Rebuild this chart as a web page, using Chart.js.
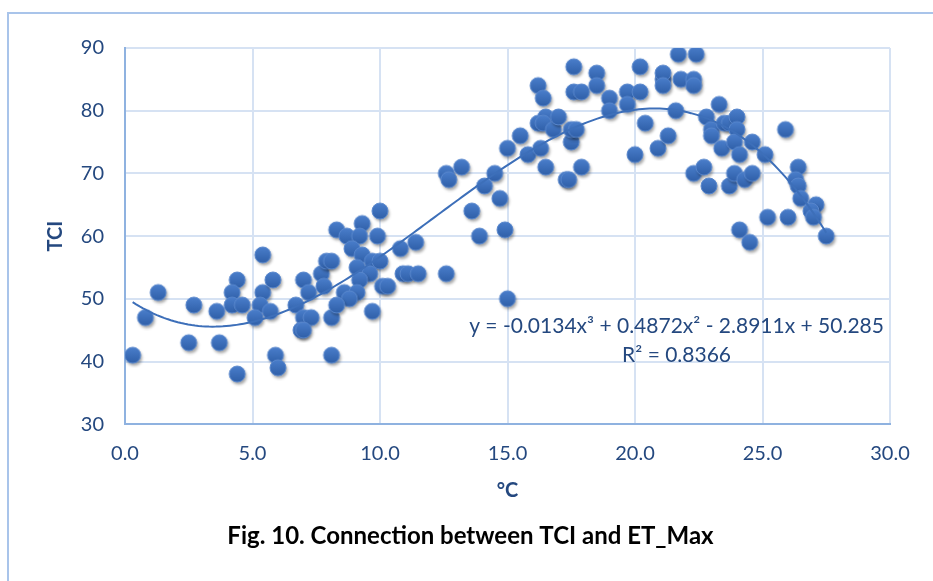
<!DOCTYPE html>
<html>
<head>
<meta charset="utf-8">
<script src="https://cdn.jsdelivr.net/npm/chart.js@4.4.1/dist/chart.umd.min.js"></script>
<style>
  html, body { margin: 0; padding: 0; background: #fff; overflow: hidden; }
  #wrap { position: relative; width: 933px; height: 581px; }
  #frame { position: absolute; left: 7px; top: 12px; width: 940px; height: 600px;
           border-top: 2px solid #a9c4ea; border-left: 2px solid #a9c4ea; }
  canvas { position: absolute; left: 0; top: 0; }
</style>
</head>
<body>
<div id="wrap">
  <div id="frame"></div>
  <canvas id="chart" width="933" height="581"></canvas>
</div>
<script>
// data
const etMax = [
  0.3, 0.8, 1.3, 2.5, 2.7, 3.6, 3.7, 4.4, 4.4, 4.2, 4.2, 4.6, 5.4, 5.4, 5.3, 5.1,
  5.7, 5.8, 5.9, 6.0, 6.7, 7.0, 7.2, 7.0, 7.3, 6.9, 7.0, 7.7, 7.8, 7.9, 8.1, 8.1,
  12.6, 12.7, 13.2, 14.5, 14.1, 14.7, 13.6, 13.9, 14.9, 15.0, 10.0, 9.3, 8.3, 8.7,
  9.2, 9.9, 8.9, 9.3, 8.1, 9.1, 9.7, 10.0, 9.6, 9.2, 10.1, 10.3, 8.6, 9.1, 8.8, 8.3,
  9.7, 10.8, 11.4, 10.9, 11.1, 11.5, 12.6,
  15.0, 15.5, 15.8, 16.3, 16.5, 16.2, 16.4, 16.5, 16.2, 16.4, 16.8, 17.0, 17.3, 17.4,
  17.5, 17.5, 17.7, 17.6, 17.6, 17.9, 17.9, 18.5, 18.5, 19.0, 19.0, 19.7, 19.7, 20.2,
  20.2, 20.0, 20.4, 20.9, 21.3, 21.1, 21.1, 21.1, 21.7, 22.4, 21.8, 22.3, 22.3, 21.6,
  22.3, 22.7, 22.9, 22.8, 23.3, 23.0, 23.0, 23.4, 23.5, 23.7,
  23.7, 24.0, 24.0, 23.9, 24.1, 24.6, 25.1, 23.9, 24.3, 24.6, 24.1, 24.5, 25.2, 26.0,
  25.9, 26.4, 26.3, 26.4, 26.5, 27.1, 26.9, 27.0, 27.5
];
const tci = [
  41, 47, 51, 43, 49, 48, 43, 38, 53, 51, 49, 49, 57, 51, 49, 47,
  48, 53, 41, 39, 49, 53, 51, 47, 47, 45, 45, 54, 52, 56, 47, 41,
  70, 69, 71, 70, 68, 66, 64, 60, 61, 50, 64, 62, 61, 60,
  60, 60, 58, 57, 56, 55, 56, 56, 54, 53, 52, 52, 51, 51, 50, 49,
  48, 58, 59, 54, 54, 54, 54,
  74, 76, 73, 74, 71, 84, 82, 79, 78, 78, 77, 79, 69, 69,
  75, 77, 77, 87, 83, 83, 71, 86, 84, 82, 80, 83, 81, 83,
  87, 73, 78, 74, 76, 85, 86, 84, 89, 89, 85, 85, 84, 80,
  70, 71, 68, 79, 81, 77, 76, 74, 78, 68,
  78, 79, 77, 75, 73, 75, 73, 70, 69, 70, 61, 59, 63, 63,
  77, 71, 69, 68, 66, 65, 64, 63, 60
];
const xTicks = [0, 5, 10, 15, 20, 25, 30];
const yTicks = [30, 40, 50, 60, 70, 80, 90];

// polynomial trendline as printed on the chart: c0 + c1 x + c2 x^2 + c3 x^3
const trendCoef = [50.285, -2.8911, 0.4872, -0.0134];
const trendText = ['y = -0.0134x\u00b3 + 0.4872x\u00b2 - 2.8911x + 50.285', 'R\u00b2 = 0.8366'];
const trendTextAt = [21.63, 45.64];

const FONT = 'Lato, "Open Sans", sans-serif';
const textBlue = '#24487f';
const gridBlue = '#d6e2f3';
const axisBlue = '#8fb2e0';

const points = etMax.map((x, i) => ({ x: x, y: tci[i] }));

const xMin = Math.min(...etMax), xMax = Math.max(...etMax);
const trend = [];
for (let k = 0; k <= 200; k++) {
  const x = xMin + (xMax - xMin) * k / 200;
  const y = trendCoef[0] + trendCoef[1] * x + trendCoef[2] * x * x + trendCoef[3] * x * x * x;
  trend.push({ x: x, y: y });
}

function makeMarker() {
  const c = document.createElement('canvas');
  c.width = 26; c.height = 26;
  const g = c.getContext('2d');
  g.shadowColor = 'rgba(0,0,0,0.35)';
  g.shadowBlur = 3;
  g.shadowOffsetX = 1.5;
  g.shadowOffsetY = 2.5;
  const grad = g.createLinearGradient(0, 5, 0, 21);
  grad.addColorStop(0, '#4a7ecb');
  grad.addColorStop(1, '#2f5fa8');
  g.beginPath();
  g.arc(13, 13, 8, 0, Math.PI * 2);
  g.fillStyle = grad;
  g.fill();
  g.shadowColor = 'transparent';
  g.lineWidth = 1;
  g.strokeStyle = '#5a88cd';
  g.stroke();
  return c;
}

const trendLabel = {
  id: 'trendLabel',
  afterDatasetsDraw(chart) {
    const { ctx, scales } = chart;
    const px = scales.x.getPixelForValue(trendTextAt[0]);
    const py = scales.y.getPixelForValue(trendTextAt[1]);
    ctx.save();
    ctx.font = '21px ' + FONT;
    ctx.fillStyle = textBlue;
    ctx.textAlign = 'center';
    ctx.textBaseline = 'middle';
    ctx.fillText(trendText[0], px, py);
    ctx.fillText(trendText[1], px, py + 29);
    ctx.restore();
  }
};

new Chart(document.getElementById('chart'), {
  type: 'scatter',
  data: {
    datasets: [
      {
        label: 'Trend',
        type: 'line',
        data: trend,
        borderColor: '#3d6fb9',
        borderWidth: 2,
        pointRadius: 0,
        fill: false,
        tension: 0,
        order: 0
      },
      {
        label: 'TCI',
        data: points,
        pointStyle: makeMarker(),
        pointRadius: 8,
        order: 1
      }
    ]
  },
  options: {
    responsive: false,
    animation: false,
    layout: { padding: { left: 8, top: 48, right: 0, bottom: 0 } },
    plugins: {
      legend: { display: false },
      tooltip: { enabled: false },
      title: {
        display: true,
        position: 'bottom',
        text: 'Fig. 10. Connection between TCI and ET_Max',
        color: '#000',
        font: { family: FONT, size: 24, weight: 'bold' },
        padding: { top: 8, bottom: 30 }
      }
    },
    scales: {
      x: {
        type: 'linear',
        min: 0,
        max: 30,
        afterBuildTicks: s => { s.ticks = xTicks.map(v => ({ value: v })); },
        afterFit: s => { s.height = 90; },
        ticks: {
          callback: v => v.toFixed(1),
          color: textBlue,
          font: { family: FONT, size: 20 },
          padding: 17,
          maxRotation: 0
        },
        grid: { color: gridBlue, lineWidth: 2, drawTicks: false },
        border: { color: axisBlue, width: 2 },
        title: {
          display: true,
          text: '\u00b0C',
          color: textBlue,
          font: { family: FONT, size: 20, weight: 'bold' },
          padding: { top: 0, bottom: 12 }
        }
      },
      y: {
        type: 'linear',
        min: 30,
        max: 90,
        afterBuildTicks: s => { s.ticks = yTicks.map(v => ({ value: v })); },
        afterFit: s => { s.width = 117; },
        ticks: {
          color: textBlue,
          font: { family: FONT, size: 20 },
          padding: 21
        },
        grid: { color: gridBlue, lineWidth: 2, drawTicks: false },
        border: { color: axisBlue, width: 2 },
        title: {
          display: true,
          text: 'TCI',
          color: textBlue,
          font: { family: FONT, size: 20, weight: 'bold' },
          padding: { top: 36, bottom: 0 }
        }
      },
      yRight: {
        type: 'linear',
        position: 'right',
        display: true,
        afterFit: s => { s.width = 43; },
        ticks: { display: false },
        grid: { display: false, drawTicks: false },
        border: { display: false }
      }
    }
  },
  plugins: [trendLabel]
});
</script>
</body>
</html>
